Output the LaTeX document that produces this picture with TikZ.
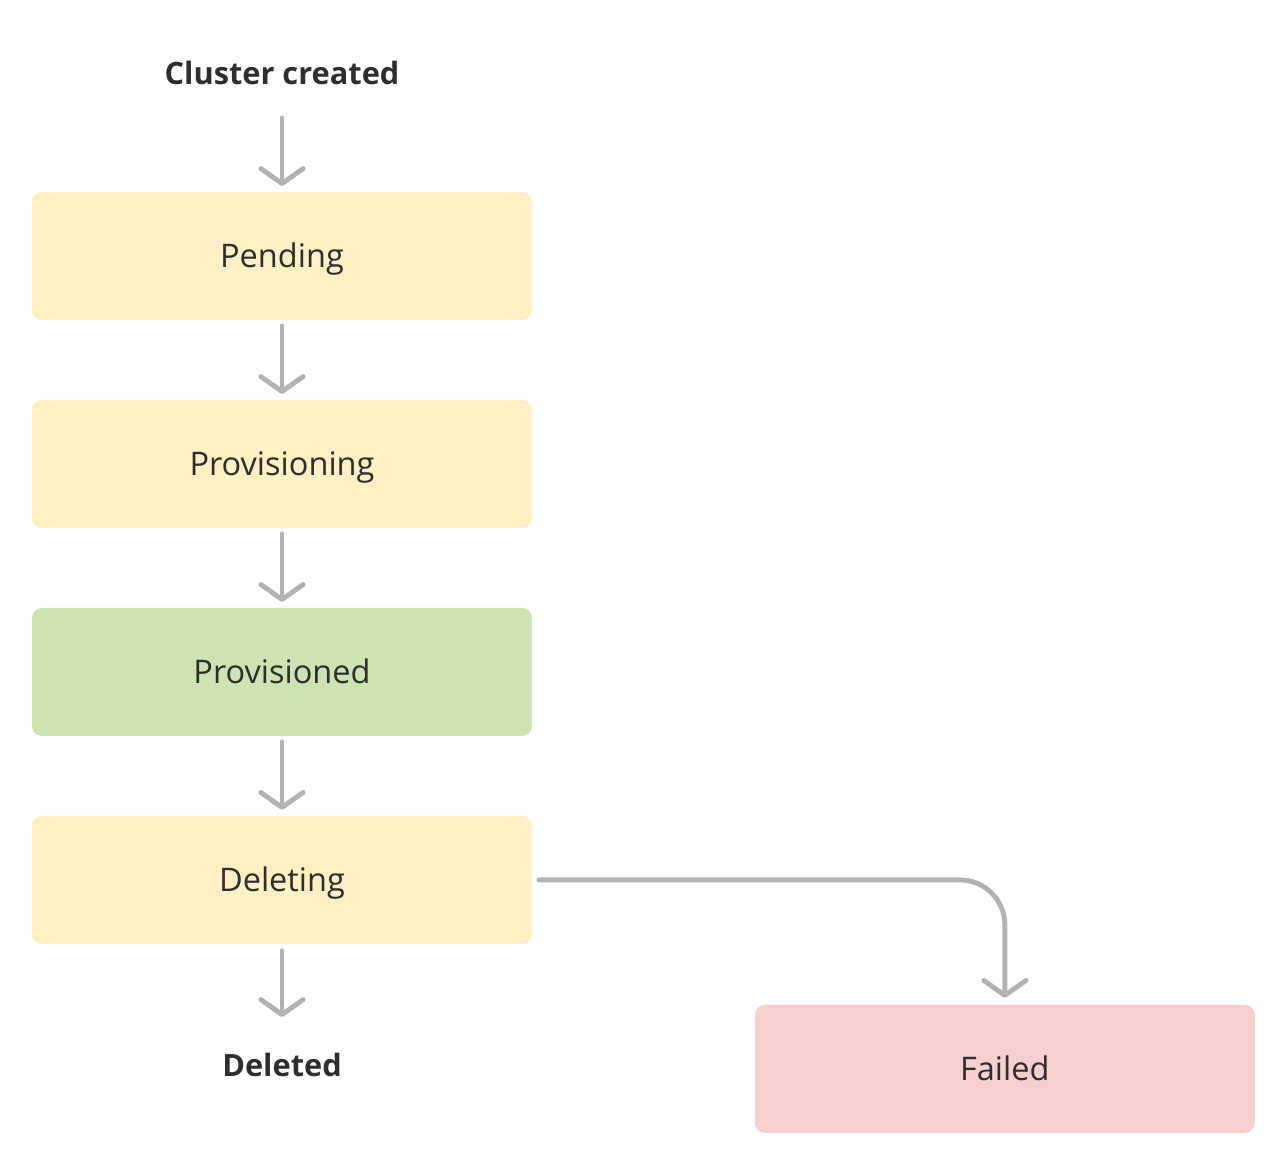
\documentclass[tikz,border=0pt]{standalone}
\usepackage{fontspec}
\setmainfont{Open Sans}
\usetikzlibrary{positioning,arrows.meta}
\definecolor{stwait}{HTML}{FEF0C2}
\definecolor{stok}{HTML}{CBE4B2}
\definecolor{stfail}{HTML}{F7CFCD}
\definecolor{flow}{HTML}{B3B3B3}
\definecolor{ink}{HTML}{2E2E2E}
\begin{document}
\begin{tikzpicture}[x=0.02cm, y=-0.02cm, node distance=1.6cm and 4.46cm, outer sep = 0pt]
\useasboundingbox (0,0) rectangle (1286,1164);

\tikzstyle{state}=[fill=stwait, rectangle, rounded corners=0.2cm, minimum height=2.56cm, minimum width=10cm, text=ink, text height=13pt, text depth=0pt, font=\fontsize{18.5}{21}\selectfont]
\tikzstyle{event}=[rectangle, minimum height=1.56cm, text=ink, font=\fontsize{17.5}{20}\selectfont\bfseries]
\tikzstyle{go}=[draw=flow, line width=2.8pt, line cap=round, line join=round, -{Straight Barb[length=8.5pt, width=24pt, line cap=round, line join=round]}]

\node[event] (created) at (282,73) {Cluster created};
\node[state] (pend) at (282,256) {Pending};
\node[state, below=of pend] (prov) {Provisioning};
\node[state, below=of prov, fill=stok] (provd) {Provisioned};
\node[state, below=of provd] (del) {Deleting};
\node[event] (deld) at (282,1065) {Deleted};
\node[state, fill=stfail, below right=1.22cm and 4.46cm of del] (fail) {Failed};

\draw[go, shorten <=0.12cm, shorten >=0.12cm] (created) -- (pend);
\draw[go, shorten <=0.12cm, shorten >=0.12cm] (pend) -- (prov);
\draw[go, shorten <=0.12cm, shorten >=0.12cm] (prov) -- (provd);
\draw[go, shorten <=0.12cm, shorten >=0.12cm] (provd) -- (del);
\draw[go, shorten <=0.14cm, shorten >=0.18cm] (del) -- (deld);
\draw[go, rounded corners=0.9cm, shorten <=0.14cm, shorten >=0.14cm] (del.east) -| (fail.north);

\end{tikzpicture}
\end{document}
